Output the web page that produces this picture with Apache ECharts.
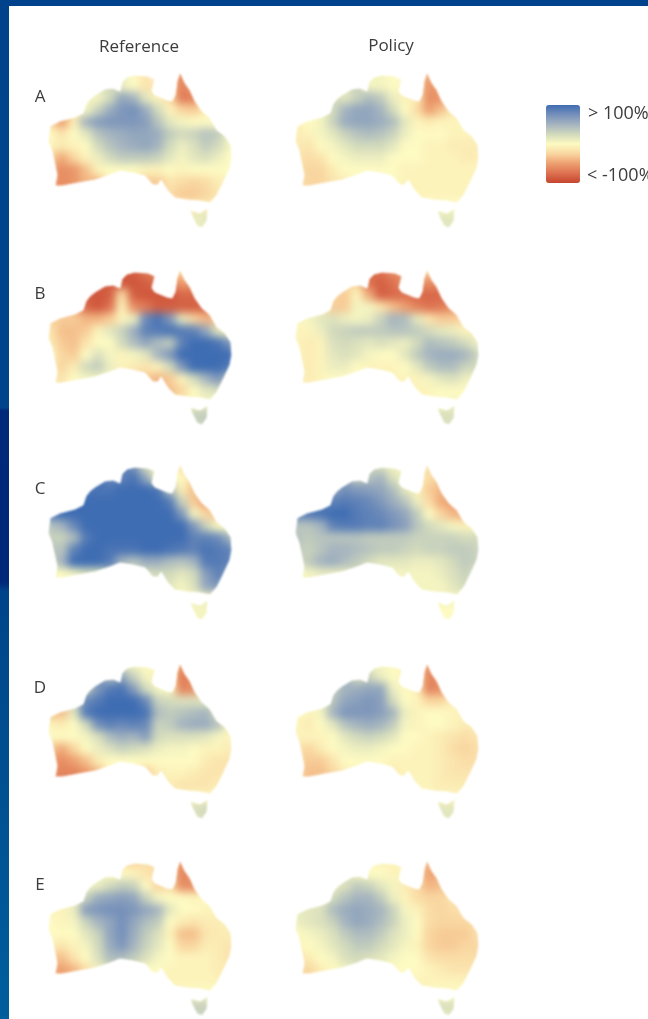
<!DOCTYPE html>
<html><head><meta charset="utf-8">
<style>
html,body{margin:0;padding:0;background:#fff}
#c{width:648px;height:1019px}
canvas[data-zr-dom-id="zr_0"]{filter:blur(4px)}
canvas[data-zr-dom-id="zr_1"]{filter:blur(0.8px)}
</style>
<script src="https://cdn.jsdelivr.net/npm/echarts@6/dist/echarts.min.js"></script>
</head><body><div id="c"></div>
<script>
const _ = null;
const columnLabels = ['0','1','2','3','4','5','6','7','8','9','10','11','12','13','14','15'];
const rowLabels = ['0','1','2','3','4','5','6','7','8','9','10','11','12','13'];
const rowNames = ['A','B','C','D','E'];
const columnTitles = ['Reference','Policy'];
const legendLabels = ['> 100%','< -100%'];

const refA = [
[_,_,_,_,_,_,10,0,-15,_,-40,-60,-40,_,_,_],
[_,_,_,5,15,25,10,0,-15,-15,-30,-65,-50,-30,_,_],
[_,_,5,5,5,25,60,50,15,-5,-20,-70,-65,-20,_,_],
[-25,-50,-10,5,30,55,70,75,55,25,-5,-25,-30,-10,0,_],
[-25,-50,-10,50,65,70,70,70,65,40,15,5,0,0,0,5],
[0,-15,0,15,40,50,55,60,60,55,35,25,30,40,35,5],
[-5,-10,-5,0,25,40,50,55,60,50,25,10,20,35,25,5],
[-25,-45,-25,-5,10,25,35,35,35,30,15,5,15,20,10,0],
[-45,-60,-55,-35,-5,0,0,0,-5,-5,0,-5,0,0,0,0],
[-50,-60,-55,-40,-40,0,0,-5,-30,-30,-15,-20,-25,-20,-10,-5],
[-50,-60,-55,-40,_,_,_,_,-30,-30,-20,-30,-30,-25,-15,-5],
[_,_,_,_,_,_,_,_,_,_,-20,-15,-15,-10,-10,-10],
[_,_,_,_,_,_,_,_,_,_,_,10,10,15,15,_],
[_,_,_,_,_,_,_,_,_,_,_,10,10,10,10,_]];
const polA = [
[_,_,_,_,_,_,5,5,0,_,-30,-45,-30,_,_,_],
[_,_,_,15,15,30,5,5,0,-5,-20,-55,-50,-30,_,_],
[_,_,25,25,15,30,45,35,10,-5,-10,-60,-55,-15,_,_],
[-5,0,5,25,50,60,60,50,25,0,-20,-50,-35,-10,-5,_],
[-5,0,5,30,55,60,60,55,45,15,-5,-10,-5,-5,-5,-5],
[-10,-5,5,15,30,40,45,40,30,10,0,0,0,-5,-5,-5],
[-10,-15,0,5,15,25,25,25,15,0,0,-5,-5,-10,-10,-10],
[-15,-20,-15,0,5,10,10,10,0,0,0,-5,-5,-5,-10,-10],
[-20,-25,-25,-10,0,0,0,0,0,-5,-5,-5,-5,-5,-5,-5],
[-20,-25,-25,-15,-10,0,0,0,0,-5,-5,-5,-5,-5,-5,-5],
[-20,-25,-25,-15,_,_,_,_,-5,-5,-5,-5,-5,-5,-5,-5],
[_,_,_,_,_,_,_,_,_,_,-5,0,0,0,0,0],
[_,_,_,_,_,_,_,_,_,_,_,15,15,15,15,_],
[_,_,_,_,_,_,_,_,_,_,_,15,15,15,15,_]];
const refB = [
[_,_,_,_,_,-85,-85,-85,-70,-60,-30,-20,-20,_,_,_],
[_,_,-85,-85,-85,-85,-90,-90,-85,-75,-70,-50,-55,-55,_,_],
[_,-40,-40,-85,-90,-85,-20,-85,-90,-90,-90,-80,-80,-70,-50,_],
[-25,-30,-40,-80,-90,-75,-5,-60,-70,-85,-85,-85,-85,-80,-50,-35],
[-25,-30,-30,-40,-40,-30,-5,10,80,95,70,15,-25,-40,-35,-5],
[-15,-35,-35,-30,-5,15,30,55,85,90,95,90,85,60,15,-5],
[-10,-30,-35,-15,0,0,25,45,60,45,35,85,100,100,95,70],
[0,-25,-30,0,20,5,-5,5,15,50,70,100,100,100,100,100],
[-10,-25,-10,25,35,10,-5,-10,-15,-5,25,70,100,100,100,90],
[-10,-15,0,5,5,5,-10,-30,-30,-40,-30,-5,25,50,70,40],
[-10,-15,0,5,5,_,_,_,-30,-40,-35,-25,0,15,20,20],
[_,_,_,_,_,_,_,_,_,_,-35,-10,0,5,0,0],
[_,_,_,_,_,_,_,_,_,_,_,30,30,35,35,_],
[_,_,_,_,_,_,_,_,_,_,_,30,30,30,30,_]];
const polB = [
[_,_,_,_,_,-40,-75,-75,-60,-50,-25,-25,-25,_,_,_],
[_,_,-25,-20,-20,-25,-75,-85,-75,-60,-60,-60,-60,-50,_,_],
[_,-5,-5,-25,-30,-5,-45,-85,-80,-75,-80,-80,-80,-60,-30,_],
[0,5,-5,-30,-30,5,5,-15,-35,-50,-65,-75,-70,-60,-30,-10],
[0,5,15,20,10,5,10,30,50,45,15,-15,-30,-30,-20,-5],
[-5,-5,10,25,30,35,35,35,40,40,35,25,15,10,-5,-5],
[-5,-10,-5,20,25,20,15,20,15,10,25,45,40,35,25,10],
[-5,-10,-5,15,20,15,5,0,0,15,35,50,55,55,50,30],
[-5,-10,-5,10,10,0,-5,-5,-5,0,15,35,45,45,30,25],
[-5,-10,-5,0,0,0,-5,-5,-5,-5,-5,5,15,20,10,5],
[-5,-10,-5,0,0,_,_,_,-5,-5,-5,-5,0,0,0,0],
[_,_,_,_,_,_,_,_,_,_,-5,0,0,5,0,0],
[_,_,_,_,_,_,_,_,_,_,_,20,20,20,20,_],
[_,_,_,_,_,_,_,_,_,_,_,20,20,20,20,_]];
const refC = [
[_,_,_,_,_,80,85,70,20,5,0,-20,-20,_,_,_],
[_,_,95,95,95,80,85,95,60,0,0,0,-25,-30,_,_],
[100,100,100,95,95,95,100,100,100,95,40,-10,-35,-30,-30,_],
[90,100,100,100,100,100,100,100,100,100,90,30,-30,-50,-30,-15],
[90,100,100,100,100,100,100,100,100,100,100,70,5,-25,-35,-15],
[40,50,80,100,100,100,100,100,100,100,100,100,70,30,0,0],
[30,30,45,90,100,100,100,100,100,100,100,100,85,85,80,50],
[40,40,85,100,100,95,95,95,100,100,95,90,85,95,90,85],
[30,50,100,100,100,90,50,40,55,55,45,40,50,90,90,85],
[0,0,5,20,15,30,30,20,20,25,25,15,25,65,85,70],
[0,0,5,20,15,_,_,_,20,25,15,5,20,60,70,70],
[_,_,_,_,_,_,_,_,_,_,15,5,5,10,10,10],
[_,_,_,_,_,_,_,_,_,_,_,5,5,5,5,_],
[_,_,_,_,_,_,_,_,_,_,_,5,5,5,5,_]];
const polC = [
[_,_,_,_,_,30,25,20,5,5,-10,-20,-15,_,_,_],
[_,_,60,60,60,30,40,50,20,5,-5,-20,-30,-30,_,_],
[85,85,85,60,75,70,65,60,45,15,-5,-30,-40,-30,-20,_],
[85,85,85,85,90,85,80,70,55,40,10,-20,-45,-50,-20,-15],
[85,90,95,100,100,90,85,80,70,60,35,0,-25,-40,-45,-15],
[40,40,50,85,90,90,85,85,75,65,40,25,15,5,-5,0],
[40,35,40,40,40,40,35,35,35,35,30,30,30,30,25,25],
[35,30,40,50,50,45,40,35,35,30,25,30,30,35,35,30],
[25,35,50,55,45,35,25,15,15,15,10,10,15,25,35,30],
[0,5,10,10,10,20,15,10,5,5,5,5,10,20,30,20],
[0,5,10,10,10,_,_,_,5,5,5,5,5,15,25,25],
[_,_,_,_,_,_,_,_,_,_,5,5,5,5,5,5],
[_,_,_,_,_,_,_,_,_,_,_,0,0,0,0,_],
[_,_,_,_,_,_,_,_,_,_,_,0,0,0,0,_]];
const refD = [
[_,_,_,_,_,40,10,5,0,-5,-30,-55,-40,_,_,_],
[_,_,30,30,70,40,60,30,5,-5,-10,-70,-55,-20,_,_],
[_,30,30,30,70,90,95,65,25,5,0,-65,-60,-10,5,_],
[-35,-35,30,80,90,100,100,100,80,30,25,20,20,15,5,5],
[-35,-35,15,90,100,100,100,100,95,45,35,40,45,50,20,0],
[-5,-10,0,25,75,85,80,85,80,30,35,50,55,55,40,0],
[0,0,0,5,20,45,55,50,65,25,20,20,20,15,5,-5],
[-30,-45,-25,0,10,20,30,25,20,10,5,5,0,-5,-5,-10],
[-50,-60,-50,-35,-10,0,0,0,0,0,0,0,0,-10,-15,-15],
[-55,-65,-65,-55,-40,0,0,0,-30,-10,-5,-5,-10,-15,-15,-15],
[-55,-65,-65,-55,-40,_,_,_,-30,-10,-10,-15,-15,-15,-10,-10],
[_,_,_,_,_,_,_,_,_,_,-10,-5,-5,-5,-5,-5],
[_,_,_,_,_,_,_,_,_,_,_,20,20,25,25,_],
[_,_,_,_,_,_,_,_,_,_,_,20,20,20,20,_]];
const polD = [
[_,_,_,_,_,20,5,5,0,-5,-30,-55,-40,_,_,_],
[_,_,30,30,50,20,30,10,0,-5,-10,-65,-55,-20,_,_],
[_,5,5,30,50,55,60,60,10,0,-5,-65,-60,-10,0,_],
[0,-5,5,40,60,65,70,65,25,0,-5,-25,-25,-5,0,0],
[0,-5,5,50,70,70,70,65,50,10,-5,0,0,-5,-5,-5],
[-5,-10,0,15,40,50,55,50,35,5,-5,0,0,-5,-10,-10],
[-5,-5,-5,0,15,25,30,25,15,0,0,-5,-10,-15,-20,-15],
[-15,-25,-10,0,5,10,10,5,0,0,-5,-5,-10,-20,-25,-20],
[-25,-30,-30,-15,0,0,0,0,-5,-5,-5,-5,-10,-15,-20,-20],
[-25,-35,-35,-25,-10,0,0,-5,-10,-5,-5,-5,-10,-15,-15,-15],
[-25,-35,-35,-25,-10,_,_,_,-10,-5,-5,-5,-10,-10,-10,-10],
[_,_,_,_,_,_,_,_,_,_,-5,-5,-5,-5,-5,-5],
[_,_,_,_,_,_,_,_,_,_,_,15,15,15,15,_],
[_,_,_,_,_,_,_,_,_,_,_,15,15,15,15,_]];
const refE = [
[_,_,_,_,_,0,-20,-25,-20,-20,-30,-55,-40,_,_,_],
[_,_,5,5,10,0,0,-5,-15,-20,-20,-65,-50,-30,_,_],
[_,10,10,5,10,25,35,30,0,-25,-20,-60,-60,-20,0,_],
[-5,-5,10,30,55,60,65,60,30,5,0,0,-5,0,0,-5],
[-5,-5,10,65,70,75,75,70,60,50,15,0,0,-5,-5,-5],
[0,-5,5,30,50,60,75,60,45,35,0,-10,-15,-10,-10,-5],
[0,0,0,15,30,60,75,55,35,20,-5,-35,-35,-15,-10,-10],
[-5,-15,-5,5,25,55,70,50,30,15,0,-25,-25,-10,-10,-15],
[-30,-35,-15,0,20,45,45,35,20,5,0,-5,-5,-5,-10,-15],
[-45,-50,-40,-20,5,20,20,10,0,0,-5,-5,-5,-5,-10,-10],
[-45,-50,-40,-20,5,_,_,_,0,0,-5,-5,-5,-5,-5,-5],
[_,_,_,_,_,_,_,_,_,_,-5,0,0,0,0,0],
[_,_,_,_,_,_,_,_,_,_,_,30,30,30,30,_],
[_,_,_,_,_,_,_,_,_,_,_,30,30,30,30,_]];
const polE = [
[_,_,_,_,_,5,0,-5,-5,-5,-20,-40,-30,_,_,_],
[_,_,10,10,20,5,0,0,-5,-5,-15,-50,-40,-25,_,_],
[_,5,5,10,20,35,30,15,5,-10,-20,-40,-35,-20,-10,_],
[10,15,5,25,40,50,50,35,10,-5,-20,-25,-25,-15,-10,-10],
[10,15,20,45,55,60,55,50,30,5,-5,-20,-25,-20,-15,-15],
[10,15,20,30,50,60,55,45,30,10,0,-20,-25,-25,-25,-15],
[0,5,10,20,35,45,45,35,20,10,0,-25,-30,-30,-30,-20],
[-5,0,5,15,25,35,35,25,15,5,-5,-25,-30,-30,-25,-25],
[-15,-10,0,5,20,25,20,15,5,0,0,-15,-20,-20,-20,-20],
[-20,-25,-10,0,5,15,10,5,0,0,0,-5,-10,-15,-15,-15],
[-20,-25,-10,0,5,_,_,_,0,0,-5,-5,-5,-5,-5,-5],
[_,_,_,_,_,_,_,_,_,_,-5,0,0,0,0,0],
[_,_,_,_,_,_,_,_,_,_,_,20,20,20,20,_],
[_,_,_,_,_,_,_,_,_,_,_,15,15,15,15,_]];

const mainlandCoast = [[30,68],[40,63],[55,59],[63,55],[66,46],[70,41],[75,37],[85,31],[93,30],[100,33],[102,24],[107,19],[115,17],[128,18],[135,21],[132,33],[135,37],[147,42],[152,43],[155,37],[157,23],[160,14],[165,25],[170,32],[175,43],[182,53],[190,60],[197,72],[205,78],[211,87],[212,100],[210,110],[203,125],[197,137],[190,145],[180,143],[167,142],[155,140],[148,133],[141,122],[138,127],[133,127],[125,118],[113,115],[100,113],[90,117],[75,122],[58,125],[42,128],[35,128],[37,117],[35,107],[32,93],[28,83]];
const tasmaniaCoast = [[182,170],[177,168],[172,158],[170,152],[180,155],[188,150],[187,163]];

const panelColumns = [20, 267];
const panelRows = [58, 255, 450, 649, 846];
const panelData = [[refA,polA],[refB,polB],[refC,polC],[refD,polD],[refE,polE]];
const heatColors = ['#c5452e','#dd7150','#ed9f6f','#f9d6a0','#fdfac2','#d2dabc','#a5b4bf','#7590ba','#3f6db3'];

const grids=[], xAxes=[], yAxes=[], series=[], heatIdx=[];
const W=240, H=200;
function maskPoints(api){
  const x0=0,x1=W,y0=-6,y1=194;
  const tas=tasmaniaCoast.slice().reverse();
  const main=mainlandCoast.slice().reverse();
  const tasLoop=[tas[tas.length-1]].concat(tas);
  const pts=[[x0,y0],[x1,y0],[x1,y1],[tasmaniaCoast[0][0],y1]]
    .concat(tasLoop)
    .concat([[tasmaniaCoast[0][0],y1],[x0,y1],[x0,68],mainlandCoast[0]])
    .concat(main)
    .concat([[x0,68]]);
  return pts.map(p=>api.coord(p));
}
panelRows.forEach((top,r)=>{
  panelColumns.forEach((left,c)=>{
    const g=grids.length;
    grids.push({left:left+24,top:top+10,width:192,height:168,show:false,outerBoundsMode:'none'});
    xAxes.push({type:'category',gridIndex:g,data:columnLabels,show:false});
    yAxes.push({type:'category',gridIndex:g,data:rowLabels,inverse:true,show:false});
    const values=[];
    panelData[r][c].forEach((row,j)=>row.forEach((v,i)=>{ if(v!==null) values.push([i,j,v]); }));
    heatIdx.push(series.length);
    series.push({type:'heatmap',name:rowNames[r]+' '+columnTitles[c],xAxisIndex:g,yAxisIndex:g,data:values,zlevel:0,silent:true,progressive:0,animation:false});
  });
});
panelRows.forEach((top,r)=>{
  panelColumns.forEach((left,c)=>{
    const g=grids.length;
    grids.push({left:left,top:top,width:W,height:H,show:false,outerBoundsMode:'none'});
    xAxes.push({type:'value',gridIndex:g,min:0,max:W,show:false});
    yAxes.push({type:'value',gridIndex:g,min:0,max:H,inverse:true,show:false});
    series.push({type:'custom',xAxisIndex:g,yAxisIndex:g,zlevel:1,silent:true,clip:false,data:[[0,0]],animation:false,
      renderItem:(p,api)=>({type:'polygon',shape:{points:maskPoints(api)},style:{fill:'#fff',stroke:'#fff',lineWidth:1}})});
  });
});
const font={fontFamily:'Open Sans',fontSize:17,fill:'#3c3c3c'};
const txt=(t,x,y,align,size)=>({type:'text',zlevel:2,x,y,silent:true,style:Object.assign({text:t,textAlign:align||'center',textVerticalAlign:'middle'},font,size?{fontSize:size}:{})});
const elements=[
 {type:'rect',zlevel:2,silent:true,shape:{x:9,y:1016,width:639,height:3},style:{fill:'#fff'}},
 {type:'rect',zlevel:2,silent:true,shape:{x:0,y:0,width:648,height:6},style:{fill:'#00438c'}},
 {type:'rect',zlevel:2,silent:true,shape:{x:0,y:0,width:9,height:1019},style:{fill:{type:'linear',x:0,y:0,x2:0,y2:1,colorStops:[
  {offset:0,color:'#00438c'},{offset:0.4,color:'#00458c'},{offset:0.403,color:'#00297a'},{offset:0.572,color:'#00287a'},{offset:0.58,color:'#00448a'},{offset:0.75,color:'#004f90'},{offset:1,color:'#005e9d'}]}}},
 txt(columnTitles[0],139,47),txt(columnTitles[1],391,46),
 txt(legendLabels[0],588,114,'left',18),txt(legendLabels[1],587,176,'left',18)
];
panelRows.forEach((top,r)=>elements.push(txt(rowNames[r],40,top+39)));
const chart=echarts.init(document.getElementById('c'));
chart.setOption({
  animation:false,
  grid:grids,xAxis:xAxes,yAxis:yAxes,series,
  graphic:{elements},
  visualMap:{type:'continuous',min:-100,max:100,seriesIndex:heatIdx,left:546,top:105,itemWidth:34,itemHeight:78,calculable:false,realtime:false,text:null,showLabel:false,zlevel:2,padding:0,borderRadius:0,inRange:{color:heatColors},textStyle:{color:'transparent',fontSize:1}}
});
</script></body></html>
